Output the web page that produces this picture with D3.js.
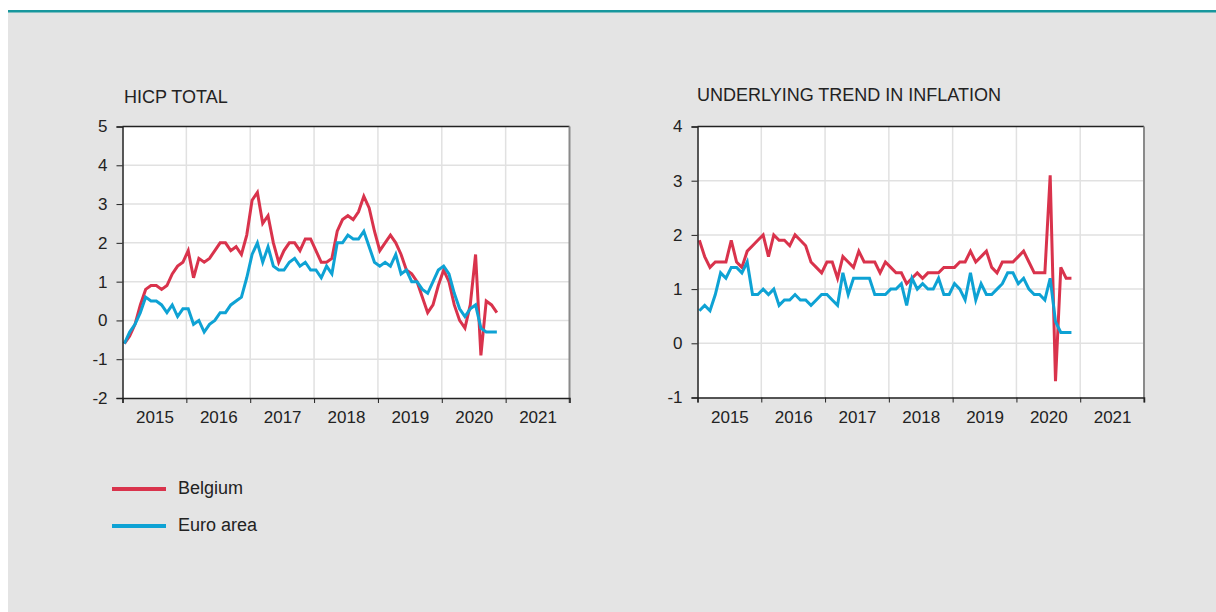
<!DOCTYPE html>
<html lang="en">
<head>
  <meta charset="UTF-8">
  <script src="https://d3js.org/d3.v7.min.js"></script>
  <style>
    body { margin: 0; background: #ffffff; }
    svg { display: block; font-family: "Liberation Sans", Arial, sans-serif; }
    .grid line { stroke: #e1e1e1; stroke-width: 1.5; }
    .tick text { fill: #222; font-size: 17px; }
  </style>
</head>
<body>
<div id="chart"></div>
<script>
  // monthly, Jan 2015 .. Nov 2020
  var yearLabels = ["2015", "2016", "2017", "2018", "2019", "2020", "2021"];

  var hicpBelgium = [
    -0.6, -0.4, -0.1, 0.4, 0.8, 0.9, 0.9, 0.8, 0.9, 1.2, 1.4, 1.5,
    1.8, 1.1, 1.6, 1.5, 1.6, 1.8, 2.0, 2.0, 1.8, 1.9, 1.7, 2.2,
    3.1, 3.3, 2.5, 2.7, 2.0, 1.5, 1.8, 2.0, 2.0, 1.8, 2.1, 2.1,
    1.8, 1.5, 1.5, 1.6, 2.3, 2.6, 2.7, 2.6, 2.8, 3.2, 2.9, 2.3,
    1.8, 2.0, 2.2, 2.0, 1.7, 1.3, 1.2, 1.0, 0.6, 0.2, 0.4, 0.9,
    1.3, 1.0, 0.4, 0.0, -0.2, 0.4, 1.7, -0.9, 0.5, 0.4, 0.2
  ];
  var hicpEuro = [
    -0.6, -0.3, -0.1, 0.2, 0.6, 0.5, 0.5, 0.4, 0.2, 0.4, 0.1, 0.3,
    0.3, -0.1, 0.0, -0.3, -0.1, 0.0, 0.2, 0.2, 0.4, 0.5, 0.6, 1.1,
    1.7, 2.0, 1.5, 1.9, 1.4, 1.3, 1.3, 1.5, 1.6, 1.4, 1.5, 1.3,
    1.3, 1.1, 1.4, 1.2, 2.0, 2.0, 2.2, 2.1, 2.1, 2.3, 1.9, 1.5,
    1.4, 1.5, 1.4, 1.7, 1.2, 1.3, 1.0, 1.0, 0.8, 0.7, 1.0, 1.3,
    1.4, 1.2, 0.7, 0.3, 0.1, 0.3, 0.4, -0.2, -0.3, -0.3, -0.3
  ];
  var trendBelgium = [
    1.9, 1.6, 1.4, 1.5, 1.5, 1.5, 1.9, 1.5, 1.4, 1.7, 1.8, 1.9,
    2.0, 1.6, 2.0, 1.9, 1.9, 1.8, 2.0, 1.9, 1.8, 1.5, 1.4, 1.3,
    1.5, 1.5, 1.2, 1.6, 1.5, 1.4, 1.7, 1.5, 1.5, 1.5, 1.3, 1.5,
    1.4, 1.3, 1.3, 1.1, 1.2, 1.3, 1.2, 1.3, 1.3, 1.3, 1.4, 1.4,
    1.4, 1.5, 1.5, 1.7, 1.5, 1.6, 1.7, 1.4, 1.3, 1.5, 1.5, 1.5,
    1.6, 1.7, 1.5, 1.3, 1.3, 1.3, 3.1, -0.7, 1.4, 1.2, 1.2
  ];
  var trendEuro = [
    0.6, 0.7, 0.6, 0.9, 1.3, 1.2, 1.4, 1.4, 1.3, 1.5, 0.9, 0.9,
    1.0, 0.9, 1.0, 0.7, 0.8, 0.8, 0.9, 0.8, 0.8, 0.7, 0.8, 0.9,
    0.9, 0.8, 0.7, 1.3, 0.9, 1.2, 1.2, 1.2, 1.2, 0.9, 0.9, 0.9,
    1.0, 1.0, 1.1, 0.7, 1.2, 1.0, 1.1, 1.0, 1.0, 1.2, 0.9, 0.9,
    1.1, 1.0, 0.8, 1.3, 0.8, 1.1, 0.9, 0.9, 1.0, 1.1, 1.3, 1.3,
    1.1, 1.2, 1.0, 0.9, 0.9, 0.8, 1.2, 0.4, 0.2, 0.2, 0.2
  ];

  var seriesNames = ["Belgium", "Euro area"];
  var seriesColors = ["#d9334c", "#0ea2d4"];

  var W = 1216, H = 612;

  var svg = d3.select("#chart").append("svg")
      .attr("width", W)
      .attr("height", H);

  // grey panel with teal rule on top
  svg.append("rect")
      .attr("x", 8).attr("y", 10)
      .attr("width", W - 8).attr("height", H - 10)
      .attr("fill", "#e4e4e4");
  svg.append("rect")
      .attr("x", 8).attr("y", 10)
      .attr("width", W - 8).attr("height", 2.5)
      .attr("fill", "#17979d");

  function drawChart(o) {
    var g = svg.append("g");
    var nMonths = yearLabels.length * 12;

    var x = d3.scaleLinear().domain([0, nMonths]).range([o.left, o.right]);
    var y = d3.scaleLinear().domain(o.yDomain).range([o.bottom, o.top]);

    g.append("rect")
        .attr("x", o.left).attr("y", o.top)
        .attr("width", o.right - o.left).attr("height", o.bottom - o.top)
        .attr("fill", "#fff");

    var yearTicks = d3.range(0, nMonths + 1, 12);
    var yTicks = d3.range(o.yDomain[0], o.yDomain[1] + 1);

    // gridlines
    var grid = g.append("g").attr("class", "grid");
    grid.selectAll(".v").data(yearTicks.slice(1, -1)).enter().append("line")
        .attr("x1", function(d) { return x(d); })
        .attr("x2", function(d) { return x(d); })
        .attr("y1", o.top).attr("y2", o.bottom);
    grid.selectAll(".h").data(yTicks.slice(1, -1)).enter().append("line")
        .attr("x1", o.left).attr("x2", o.right)
        .attr("y1", function(d) { return y(d); })
        .attr("y2", function(d) { return y(d); });

    // series
    var line = d3.line()
        .x(function(d, i) { return x(i + 0.35); })
        .y(function(d) { return y(d); });

    o.series.forEach(function(s, k) {
      g.append("path")
          .datum(s)
          .attr("fill", "none")
          .attr("stroke", seriesColors[k])
          .attr("stroke-width", 3)
          .attr("stroke-linejoin", "miter")
          .attr("d", line);
    });

    // frame: top dark, right grey
    g.append("line")
        .attr("x1", o.left).attr("x2", o.right)
        .attr("y1", o.top).attr("y2", o.top)
        .attr("stroke", "#222").attr("stroke-width", 1.5);
    g.append("line")
        .attr("x1", o.right).attr("x2", o.right)
        .attr("y1", o.top).attr("y2", o.bottom + 5)
        .attr("stroke", "#8a8a8a").attr("stroke-width", 2);

    // y axis (plain hyphen for negatives, as in the original)
    var yAxis = g.append("g")
        .attr("transform", "translate(" + o.left + ",0)")
        .call(d3.axisLeft(y).tickValues(yTicks).tickSize(6).tickPadding(9)
          .tickFormat(function(d) { return String(d); }));
    yAxis.select(".domain").attr("stroke", "#222").attr("stroke-width", 1.5);
    yAxis.selectAll(".tick line").attr("stroke", "#222");
    yAxis.selectAll("text").attr("font-family", "Liberation Sans, Arial, sans-serif");

    // x axis: ticks at year boundaries, labels in the middle of the year
    var xAxis = g.append("g")
        .attr("transform", "translate(0," + o.bottom + ")")
        .call(d3.axisBottom(x).tickValues(yearTicks.slice(0, -1)).tickSize(5).tickFormat(""));
    xAxis.select(".domain").attr("stroke", "#222").attr("stroke-width", 1.5);
    xAxis.selectAll(".tick line").attr("stroke", "#222");

    var xLabels = g.append("g")
        .attr("transform", "translate(0," + o.bottom + ")")
        .call(d3.axisBottom(x)
          .tickValues(yearLabels.map(function(d, i) { return i * 12 + 6; }))
          .tickSize(0).tickPadding(13)
          .tickFormat(function(d) { return yearLabels[(d - 6) / 12]; }));
    xLabels.select(".domain").remove();
    xLabels.selectAll("text").attr("font-family", "Liberation Sans, Arial, sans-serif");

    g.append("text")
        .attr("x", o.titleX).attr("y", o.titleY)
        .attr("font-size", 18)
        .attr("fill", "#222")
        .text(o.title);
  }

  drawChart({
    title: "HICP TOTAL", titleX: 124, titleY: 102.5,
    left: 122.5, right: 569.5, top: 126.5, bottom: 398,
    yDomain: [-2, 5],
    series: [hicpBelgium, hicpEuro]
  });

  drawChart({
    title: "UNDERLYING TREND IN INFLATION", titleX: 697, titleY: 100.5,
    left: 697.5, right: 1144, top: 126.5, bottom: 397.5,
    yDomain: [-1, 4],
    series: [trendBelgium, trendEuro]
  });

  // legend
  var legend = svg.append("g");
  seriesNames.forEach(function(name, k) {
    var ly = 489 + k * 37;
    legend.append("line")
        .attr("x1", 112).attr("x2", 166)
        .attr("y1", ly).attr("y2", ly)
        .attr("stroke", seriesColors[k])
        .attr("stroke-width", 4);
    legend.append("text")
        .attr("x", 178).attr("y", ly + 4.5)
        .attr("font-size", 18)
        .attr("fill", "#222")
        .text(name);
  });
</script>
</body>
</html>
